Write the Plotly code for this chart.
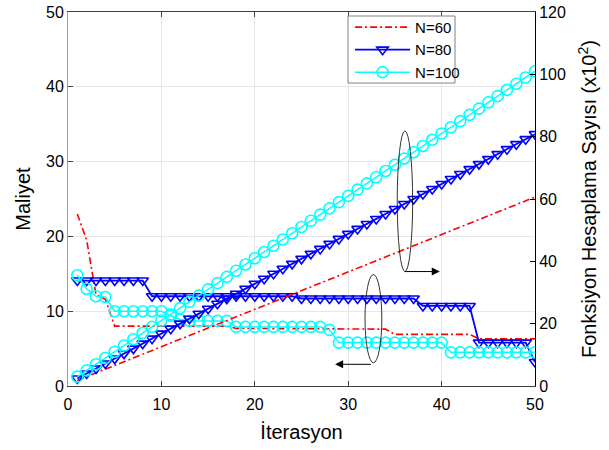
import plotly.graph_objects as go

iterations = list(range(1, 51))

# Cost (Maliyet) - left axis
cost_n60 = [23.0, 19.5, 12.2, 11.6, 8.0, 8.0, 8.0, 8.0, 8.0, 8.0,
            8.0, 8.0, 8.0, 8.0, 8.0, 8.0, 8.0, 7.7, 7.7, 7.7,
            7.7, 7.7, 7.7, 7.7, 7.7, 7.7, 7.7, 7.7, 7.7, 7.7,
            7.7, 7.7, 7.7, 7.6, 6.9, 6.9, 6.9, 6.9, 6.9, 6.9,
            6.9, 6.9, 6.9, 6.3, 6.3, 6.3, 6.3, 6.3, 6.3, 6.3]
cost_n80 = [14.1, 14.1, 14.1, 14.1, 14.1, 14.1, 14.1, 14.1, 12.0, 12.0,
            12.0, 12.0, 12.0, 12.0, 12.0, 12.0, 12.0, 12.0, 12.0, 12.0,
            12.0, 12.0, 12.0, 12.0, 11.7, 11.7, 11.7, 11.7, 11.7, 11.7,
            11.7, 11.7, 11.7, 11.7, 11.7, 11.7, 11.7, 10.7, 10.7, 10.7,
            10.7, 10.7, 10.7, 5.8, 5.8, 5.8, 5.8, 5.8, 5.8, 3.2]
cost_n100 = [14.8, 13.0, 12.0, 11.9, 10.0, 10.0, 10.0, 10.0, 10.0, 10.0,
             9.4, 8.9, 8.7, 8.7, 8.7, 8.7, 8.7, 7.9, 7.9, 7.9,
             7.9, 7.9, 7.9, 7.9, 7.9, 7.9, 7.9, 7.5, 5.8, 5.8,
             5.8, 5.8, 5.8, 5.8, 5.8, 5.8, 5.8, 5.8, 5.8, 5.8,
             4.5, 4.5, 4.5, 4.5, 4.5, 4.5, 4.5, 4.5, 4.5, 4.5]

# Function evaluation count (x10^2) - right axis
evals_n60 = [1.8, 3.0, 4.2, 5.4, 6.6, 7.8, 9.0, 10.2, 11.4, 12.6,
             13.8, 15.0, 16.2, 17.4, 18.6, 19.8, 21.0, 22.2, 23.4, 24.6,
             25.8, 27.0, 28.2, 29.4, 30.6, 31.8, 33.0, 34.2, 35.4, 36.6,
             37.8, 39.0, 40.2, 41.4, 42.6, 43.8, 45.0, 46.2, 47.4, 48.6,
             49.8, 51.0, 52.2, 53.4, 54.6, 55.8, 57.0, 58.2, 59.4, 60.6]
evals_n80 = [2.4, 4.0, 5.6, 7.2, 8.8, 10.4, 12.0, 13.6, 15.2, 16.8,
             18.4, 20.0, 21.6, 23.2, 24.8, 26.4, 28.0, 29.6, 31.2, 32.8,
             34.4, 36.0, 37.6, 39.2, 40.8, 42.4, 44.0, 45.6, 47.2, 48.8,
             50.4, 52.0, 53.6, 55.2, 56.8, 58.4, 60.0, 61.6, 63.2, 64.8,
             66.4, 68.0, 69.6, 71.2, 72.8, 74.4, 76.0, 77.6, 79.2, 80.8]
evals_n100 = [3, 5, 7, 9, 11, 13, 15, 17, 19, 21,
              23, 25, 27, 29, 31, 33, 35, 37, 39, 41,
              43, 45, 47, 49, 51, 53, 55, 57, 59, 61,
              63, 65, 67, 69, 71, 73, 75, 77, 79, 81,
              83, 85, 87, 89, 91, 93, 95, 97, 99, 101]

series_names = ["N=60", "N=80", "N=100"]
x_ticks = [0, 10, 20, 30, 40, 50]
y_ticks = [0, 10, 20, 30, 40, 50]
y2_ticks = [0, 20, 40, 60, 80, 100, 120]

FONT = "Liberation Sans, Arial, sans-serif"
RED, BLUE, CYAN = "#ff0000", "#0000ff", "#00ffff"

fig = go.Figure()

red_line = dict(color=RED, width=1.6, dash="7px,3px,2px,3px")
blue_line = dict(color=BLUE, width=1.8)
cyan_line = dict(color=CYAN, width=1.5)
tri = dict(symbol="triangle-down-open", size=10, color=BLUE, line=dict(width=1.6, color=BLUE))
circ = dict(symbol="circle-open", size=11, color=CYAN, line=dict(width=1.6, color=CYAN))

# Cost curves (left axis)
fig.add_trace(go.Scatter(x=iterations, y=cost_n60, mode="lines", line=red_line,
                         name=series_names[0], legendgroup="a", showlegend=True))
fig.add_trace(go.Scatter(x=iterations, y=cost_n80, mode="lines+markers", line=blue_line, marker=tri,
                         name=series_names[1], legendgroup="b", showlegend=True))
fig.add_trace(go.Scatter(x=iterations, y=cost_n100, mode="lines+markers", line=cyan_line, marker=circ,
                         name=series_names[2], legendgroup="c", showlegend=True))
# Eval curves (right axis)
fig.add_trace(go.Scatter(x=iterations, y=evals_n60, mode="lines", line=red_line, yaxis="y2",
                         name=series_names[0], legendgroup="a", showlegend=False))
fig.add_trace(go.Scatter(x=iterations, y=evals_n80, mode="lines+markers", line=blue_line, marker=tri,
                         yaxis="y2", name=series_names[1], legendgroup="b", showlegend=False))
fig.add_trace(go.Scatter(x=iterations, y=evals_n100, mode="lines+markers", line=cyan_line, marker=circ,
                         yaxis="y2", name=series_names[2], legendgroup="c", showlegend=False))

# Ellipses (annotation marks grouping the curves)
fig.add_shape(type="circle", xref="x", yref="y", x0=35.25, x1=36.9, y0=15.3, y1=34.1,
              line=dict(color="#000000", width=0.8))
fig.add_shape(type="circle", xref="x", yref="y", x0=31.8, x1=33.6, y0=3.1, y1=14.9,
              line=dict(color="#000000", width=0.8))
fig.add_annotation(x=39.8, y=15.3, ax=35.9, ay=15.3, xref="x", yref="y", axref="x", ayref="y",
                   text="", showarrow=True, arrowhead=2, arrowsize=1.6, arrowwidth=1, arrowcolor="#000000")
fig.add_annotation(x=28.6, y=2.9, ax=32.6, ay=2.9, xref="x", yref="y", axref="x", ayref="y",
                   text="", showarrow=True, arrowhead=2, arrowsize=1.6, arrowwidth=1, arrowcolor="#000000")

# Legend box (white panel with gray border behind the legend entries)
fig.add_shape(type="rect", xref="paper", yref="paper", x0=0.5996, x1=0.8287, y0=0.810, y1=0.9893,
              fillcolor="white", line=dict(color="#808080", width=1), layer="above")

fig.update_layout(
    width=609, height=450,
    margin=dict(l=68, r=74, t=12, b=64, autoexpand=False),
    paper_bgcolor="white", plot_bgcolor="white",
    font=dict(family=FONT, size=16, color="#000000"),
    showlegend=True,
    legend=dict(x=0.604, y=1.003, xanchor="left", yanchor="top",
                bgcolor="rgba(0,0,0,0)", borderwidth=0,
                font=dict(size=15), itemwidth=55, tracegroupgap=0),
    xaxis=dict(range=[0, 50], tickvals=x_ticks, ticks="inside", ticklen=5, tickcolor="#404040",
               showline=True, linecolor="#404040", linewidth=1, mirror="ticks", automargin=False,
               showgrid=True, gridcolor="#e6e6e6", gridwidth=1, zeroline=False,
               ticklabelstandoff=4, ticklabeloverflow="allow",
               title=dict(text="İterasyon", font=dict(size=20), standoff=12),
               tickfont=dict(size=16)),
    yaxis=dict(range=[0, 50], tickvals=y_ticks, ticks="inside", ticklen=5, tickcolor="#404040",
               showline=True, linecolor="#a0a0a0", linewidth=1, automargin=False,
               showgrid=True, gridcolor="#e6e6e6", gridwidth=1, zeroline=False,
               ticklabeloverflow="allow",
               title=dict(text="Maliyet", font=dict(size=20), standoff=10),
               tickfont=dict(size=16)),
    yaxis2=dict(range=[0, 120], tickvals=y2_ticks, ticks="inside", ticklen=5, tickcolor="#000000",
                overlaying="y", side="right", showline=True, linecolor="#000000", linewidth=1,
                showgrid=False, zeroline=False, automargin=False,
                ticklabeloverflow="allow",
                title=dict(text="Fonksiyon Hesaplama Sayısı (x10<sup>2</sup>)", font=dict(size=20), standoff=17),
                tickfont=dict(size=16)),
)

fig.write_html("out.html", config={"displayModeBar": False},
               post_script="document.body.style.margin='0px';")
